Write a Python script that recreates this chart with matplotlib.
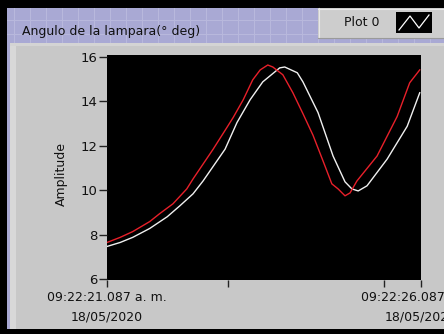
import matplotlib
matplotlib.use("Agg")
import matplotlib.pyplot as plt
from matplotlib.patches import Rectangle
from matplotlib.lines import Line2D

# ---- data (seconds after 09:22:21.087) ----
t_red = [0, 0.21, 0.41, 0.68, 0.84, 1.05, 1.27, 1.37, 1.69, 1.91, 2.01, 2.17, 2.32,
         2.44, 2.56, 2.64, 2.80, 2.96, 3.12, 3.28, 3.44, 3.58, 3.68, 3.79, 3.87, 3.98,
         4.30, 4.62, 4.82, 4.98]
v_red = [7.65, 7.88, 8.14, 8.59, 8.95, 9.39, 10.06, 10.51, 11.85, 12.83, 13.28, 14.08, 14.97,
         15.42, 15.64, 15.55, 15.20, 14.39, 13.45, 12.48, 11.32, 10.29, 10.06, 9.75, 9.88, 10.42,
         11.54, 13.32, 14.84, 15.42]
t_white = [0, 0.21, 0.41, 0.68, 0.96, 1.16, 1.37, 1.53, 1.88, 2.07, 2.28, 2.48, 2.75,
           2.83, 3.03, 3.12, 3.36, 3.60, 3.79, 3.90, 4.00, 4.14, 4.46, 4.78, 4.98]
v_white = [7.47, 7.65, 7.88, 8.28, 8.81, 9.30, 9.84, 10.42, 11.85, 13.05, 14.08, 14.88, 15.51,
           15.55, 15.29, 14.88, 13.50, 11.54, 10.38, 10.06, 9.97, 10.20, 11.40, 12.88, 14.39]

y_ticks = [6, 8, 10, 12, 14, 16]
x_ticks = [0, 1.93, 4.41, 5]
x_labels = ["09:22:21.087 a. m.\n18/05/2020", "", "", "09:22:26.087 a. m.\n18/05/2020"]
title = "Angulo de la lampara(° deg)"
legend_label = "Plot 0"
y_label = "Amplitude"

W, H = 444, 334
fig = plt.figure(figsize=(W / 100, H / 100), dpi=100)
fig.patch.set_facecolor("#000000")


def rect(x0, y0, x1, y1, color, z=0, **kw):
    fig.add_artist(Rectangle((x0 / W, 1 - y1 / H), (x1 - x0) / W, (y1 - y0) / H,
                             transform=fig.transFigure, facecolor=color,
                             edgecolor="none", zorder=z, **kw))


def line(x0, y0, x1, y1, color, lw=1.0, z=1):
    fig.add_artist(Line2D([x0 / W, x1 / W], [1 - y0 / H, 1 - y1 / H],
                          transform=fig.transFigure, color=color, lw=lw, zorder=z))


# lavender grid background
rect(7, 8, W, 329, "#a9a9d4", z=0)
for gx in range(14, W, 16):
    line(gx, 8, gx, 43, "#b9b9dd", lw=0.7, z=0.5)
for gy in range(20, 43, 14):
    line(7, gy, W, gy, "#b9b9dd", lw=0.7, z=0.5)

# gray panel
rect(10, 43, W, 329, "#c8c8c8", z=1)
rect(10, 43, 16, 329, "#d8d8d8", z=1.1)
rect(10, 43, W, 46, "#d4d4d4", z=1.1)

# legend box
rect(318, 8, W, 38, "#cdcdcd", z=1.2)
line(318, 8.5, W, 8.5, "#e8e8e8", lw=0.8, z=1.3)
line(318.5, 8, 318.5, 38, "#e8e8e8", lw=0.8, z=1.3)
line(318, 37.5, W, 37.5, "#9a9a9a", lw=0.8, z=1.3)
rect(396, 12, 432, 33, "#000000", z=1.4)
fig.add_artist(Line2D([399 / W, 410 / W, 419 / W, 429 / W],
                      [1 - 30 / H, 1 - 16 / H, 1 - 28 / H, 1 - 15 / H],
                      transform=fig.transFigure, color="white", lw=0.9, zorder=1.5))
fig.text(362 / W, 1 - 22 / H, legend_label, fontsize=9, ha="center", va="center",
         color="#111111", zorder=2)

# title
fig.text(22 / W, 1 - 31 / H, title, fontsize=9, ha="left", va="center",
         color="#111111", zorder=2)

# axes
ax_l, ax_r, ax_t, ax_b = 107, 421, 55, 280
ax = fig.add_axes([ax_l / W, 1 - ax_b / H, (ax_r - ax_l) / W, (ax_b - ax_t) / H])
ax.set_zorder(3)
ax.set_facecolor("#000000")
ax.plot(t_white, v_white, color="#f0f0f0", lw=1.0)
ax.plot(t_red, v_red, color="#e8202a", lw=1.0)
ax.set_xlim(0, 5)
ax.set_ylim(5.96, 16.09)
ax.set_yticks(y_ticks)
ax.set_yticklabels([str(v) for v in y_ticks], fontsize=9.5, color="#111111")
ax.set_xticks(x_ticks)
ax.set_xticklabels(x_labels, fontsize=9, color="#111111", linespacing=1.6)
ax.tick_params(axis="y", direction="out", length=5.5, width=1.0, color="#222222", pad=1.5)
ax.tick_params(axis="x", direction="out", length=5, width=1.0, color="#222222", pad=3)
for s in ax.spines.values():
    s.set_visible(False)
ax.set_ylabel(y_label, fontsize=9, color="#111111")
ax.yaxis.set_label_coords(-0.125, 0.47)

fig.savefig("out.png", dpi=100, facecolor=fig.get_facecolor())
